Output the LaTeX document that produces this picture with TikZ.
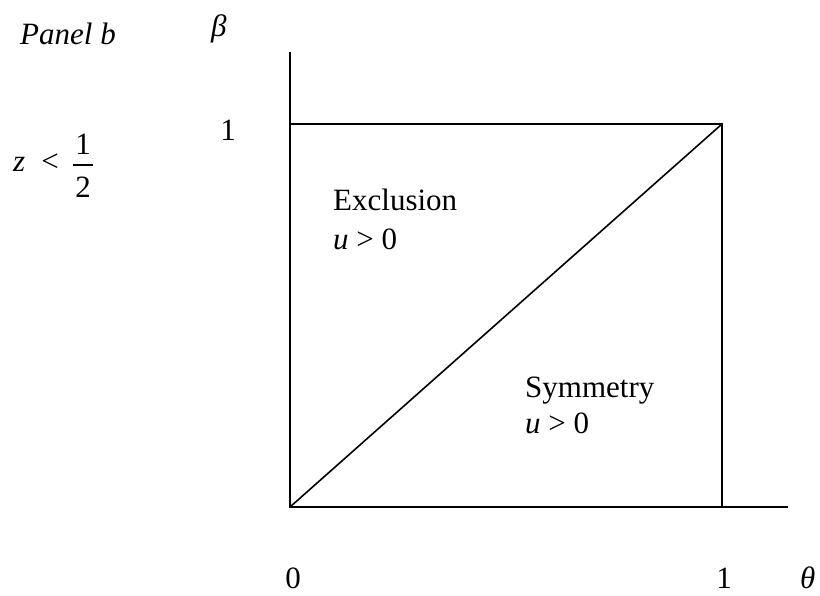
\documentclass[tikz,border=0pt]{standalone}
\usepackage{fontspec}
\setmainfont{Liberation Serif}
\begin{document}
\begin{tikzpicture}[x=1pt,y=-1pt,
  ln/.style={line width=1.6pt, line cap=butt},
  lbl/.style={inner sep=0pt, font=\fontsize{31}{37}\selectfont}]
\useasboundingbox (0,0) rectangle (820,596);
% frame points
\coordinate (o) at (290,507);
\coordinate (ytop) at (290,52);
\coordinate (xend) at (788,507);
\coordinate (tl) at (290,124);
\coordinate (tr) at (722,124);
\coordinate (br) at (722,507);
\draw[ln] (ytop) -- (o) -- (xend);
\draw[ln] (tl) -- (tr) -- (br);
\draw[ln] (o) -- (tr);
% labels
\node[lbl, anchor=base west] (panel) at (20,45) {\itshape Panel b};
\node[lbl, anchor=base west] (beta) at (211,37) {\itshape β};
\node[lbl, anchor=base] (one) at (228,141) {1};
\node[lbl, anchor=base west] (z) at (13,172) {\itshape z};
\node[lbl, anchor=base] (lt) at (50,172) {<};
\node[lbl, anchor=base] (num) at (83,155) {1};
\node[lbl, anchor=base] (den) at (83,198) {2};
\coordinate (barl) at (73,165);
\coordinate (barr) at (93,165);
\draw[line width=1.4pt] (barl) -- (barr);
\node[lbl, anchor=base west] (excl) at (333,211) {Exclusion};
\node[lbl, anchor=base west] (u1) at (333,250) {\itshape u\upshape{} > 0};
\node[lbl, anchor=base west] (sym) at (525,397) {Symmetry};
\node[lbl, anchor=base west] (u2) at (525,433) {\itshape u\upshape{} > 0};
\node[lbl, anchor=base] (zero) at (293,588) {0};
\node[lbl, anchor=base] (onex) at (724,588) {1};
\node[lbl, anchor=base west] (theta) at (800,588) {\itshape θ};
\end{tikzpicture}
\end{document}
